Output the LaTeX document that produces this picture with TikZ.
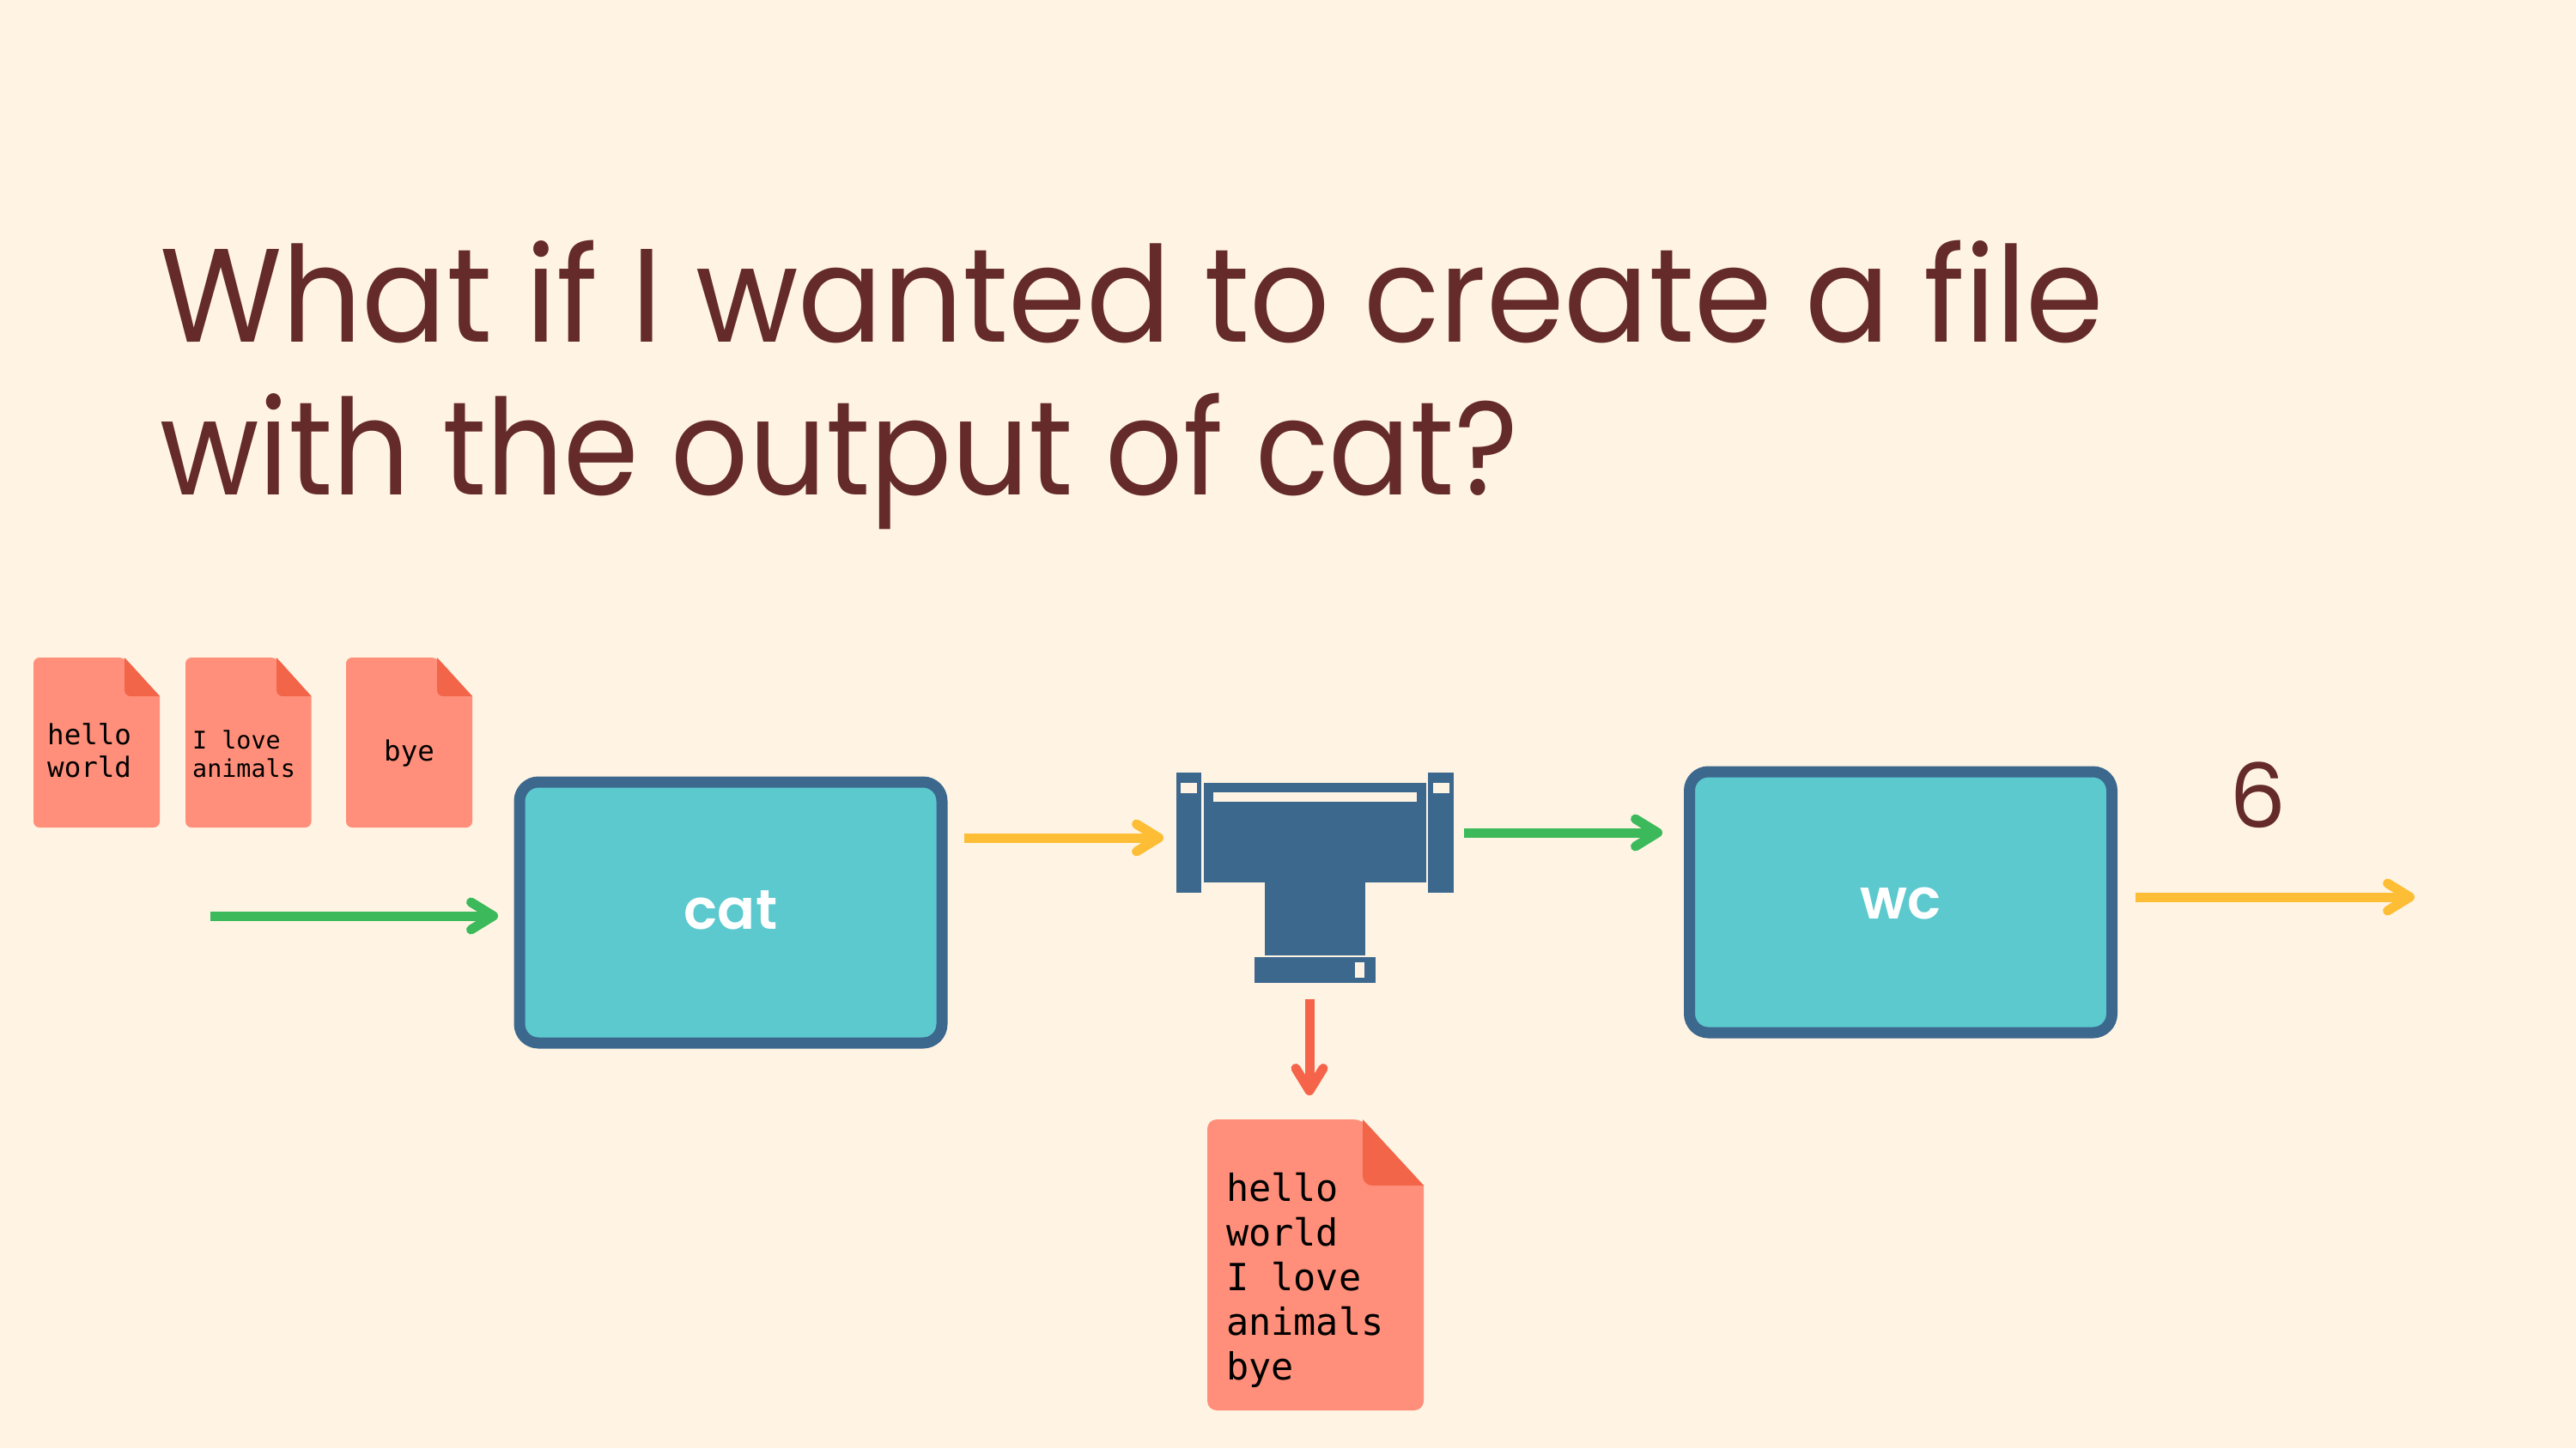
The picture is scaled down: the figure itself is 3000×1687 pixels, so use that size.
\documentclass[tikz,border=0pt]{standalone}
\usepackage{fontspec}
\usetikzlibrary{arrows.meta}
\setmainfont{Poppins}
\newfontfamily\titlefont{Poppins}
\newfontfamily\labelfont{Poppins SemiBold}
\newfontfamily\codefont{DejaVu Sans Mono}
\definecolor{bg}{HTML}{FFF4E3}
\definecolor{titlec}{HTML}{652B2B}
\definecolor{docc}{HTML}{FF8F7A}
\definecolor{foldc}{HTML}{F26549}
\definecolor{bluec}{HTML}{3D688E}
\definecolor{tealc}{HTML}{5CC9CE}
\definecolor{greenc}{HTML}{3CB95A}
\definecolor{yellowc}{HTML}{FDBD35}
\definecolor{redc}{HTML}{F5644A}
\newcommand{\docicon}[7]{%
  \fill[docc,rounded corners=#7] (#1,#3) -- (#5,#3) [sharp corners] -- (#2,#6) [rounded corners=#7] -- (#2,#4) -- (#1,#4) -- cycle;
  \fill[foldc] (#5,#3) -- (#2,#6) [rounded corners=#7] -- (#5,#6) [sharp corners] -- cycle;
}
\newcommand{\boxlabel}[1]{\raisebox{-19pt}[0pt][0pt]{#1}}
\tikzset{
  x=1pt,y=-1pt,
  conn/.style={line width=#1,-{Straight Barb[length=26pt,width=32pt,round,line width=#1]}},
  greenarrow/.style={conn=11pt,draw=greenc},
  yellowarrow/.style={conn=11pt,draw=yellowc},
  redarrow/.style={conn=11pt,draw=redc},
  procbox/.style={draw=bluec,fill=tealc,line width=13pt,rounded corners=22pt,minimum width=492pt,minimum height=304pt,inner sep=0pt,text=white,font={\labelfont\fontsize{65}{65}\selectfont}},
  titletext/.style={anchor=base west,inner sep=0pt,text=titlec,font={\titlefont\fontsize{155}{155}\selectfont}},
  code/.style={anchor=north west,inner sep=0pt,align=left,text=black},
  pipepart/.style={fill=bluec},
  pipehole/.style={fill=bg},
}
\begin{document}
\begin{tikzpicture}
\useasboundingbox (0,0) rectangle (3000,1687);
\fill[bg] (0,0) rectangle (3000,1687);
% title
\node[titletext] (t1) at (186,398) {\scalebox{.941}[1]{What if I wanted to create a file}};
\node[titletext] (t2) at (186,576) {\scalebox{.909}[1]{with the output of cat?}};
% small files
\docicon{39}{186}{766}{964}{145}{811}{7}
\node[code,font={\codefont\fontsize{32.5}{38}\selectfont}] (f1) at (55,842) {hello\\world};
\docicon{216}{362.5}{766}{964}{322}{811}{7}
\node[code,font={\codefont\fontsize{28.4}{33}\selectfont}] (f2) at (224,851) {I love\\animals};
\docicon{403}{550}{766}{964}{509}{811}{7}
\node[code,font={\codefont\fontsize{32.5}{38}\selectfont}] (f3) at (447,862) {bye};
% boxes
\node[procbox] (cat) at (851,1063) {\boxlabel{cat}};
\node[procbox] (wc) at (2213.5,1051) {\boxlabel{wc}};
% pipe
\fill[pipepart] (1370,900) rectangle (1399,1040);
\fill[pipehole] (1375,912) rectangle (1394,924);
\fill[pipepart] (1402,912) rectangle (1661,1028);
\fill[pipehole] (1413,923) rectangle (1650,934);
\fill[pipepart] (1663,900) rectangle (1693,1040);
\fill[pipehole] (1669,912) rectangle (1688,924);
\fill[pipepart] (1473,1028) rectangle (1590,1113);
\fill[pipepart] (1461,1115) rectangle (1602,1145);
\fill[pipehole] (1578,1121) rectangle (1589,1139);
% output file
\docicon{1406}{1658}{1304}{1643}{1587}{1381}{11}
\node[code,font={\codefont\fontsize{43.5}{52}\selectfont}] (f4) at (1428,1366) {hello\\world\\I love\\animals\\bye};
% six
\node[anchor=base,inner sep=0pt,text=titlec,font={\titlefont\fontsize{104}{104}\selectfont}] (six) at (2629,964) {6};
% arrows
\coordinate (a1s) at (245,1067); \coordinate (a1e) at (580,1067);
\coordinate (a2s) at (1123,976); \coordinate (a2e) at (1355,976);
\coordinate (a3s) at (1705,970); \coordinate (a3e) at (1936,970);
\coordinate (a4s) at (2487,1045); \coordinate (a4e) at (2812,1045);
\coordinate (a5s) at (1525,1164); \coordinate (a5e) at (1525,1276);
\draw[greenarrow] (a1s) -- (a1e);
\draw[yellowarrow] (a2s) -- (a2e);
\draw[greenarrow] (a3s) -- (a3e);
\draw[yellowarrow] (a4s) -- (a4e);
\draw[redarrow] (a5s) -- (a5e);
\end{tikzpicture}
\end{document}
